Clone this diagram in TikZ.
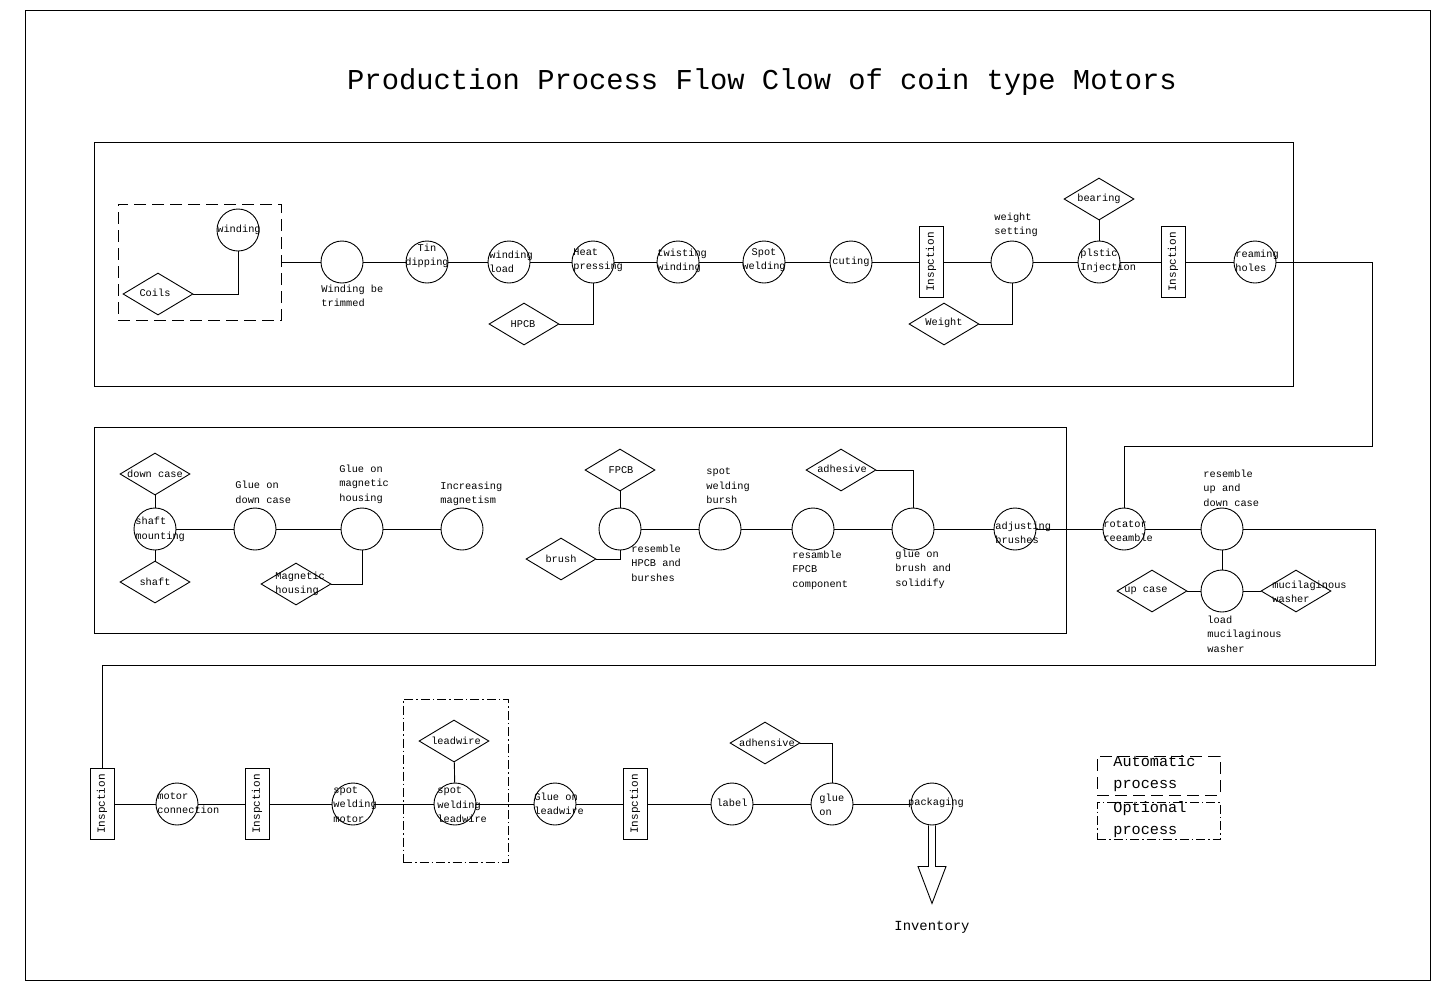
\documentclass[tikz,border=0pt]{standalone}
\usepackage{fontspec}
\setmainfont{Liberation Mono}
\usetikzlibrary{shapes.geometric}

\tikzset{
  stage/.style={draw,circle,minimum size=42pt,inner sep=0pt},
  part/.style={draw,diamond,minimum width=70pt,minimum height=42pt,inner sep=0pt},
  check/.style={draw,rectangle,rotate=90,minimum width=71pt,minimum height=24pt,inner sep=0pt,font=\fontsize{11}{12}\selectfont},
  txt/.style={inner sep=0pt,align=left,font=\fontsize{10.3}{14.5}\selectfont},
  autobox/.style={draw,rectangle,dash pattern=on 12pt off 6pt,minimum width=163pt,minimum height=116pt,inner sep=0pt},
  optbox/.style={draw,rectangle,dash pattern=on 9pt off 3pt on 1.5pt off 3pt,minimum width=105pt,minimum height=163pt,inner sep=0pt},
  key/.style={inner sep=0pt,anchor=west,align=left,font=\fontsize{15.2}{22}\selectfont},
}

\begin{document}
\begin{tikzpicture}[x=1pt,y=-1pt,line width=0.9pt]
\useasboundingbox (0,0) rectangle (1440,1002);
\draw (25,10) rectangle (1430,980);
\node[font=\fontsize{28.8}{34}\selectfont] (head) at (762,82) {Production Process Flow Clow of coin type Motors};
\draw (94,142) rectangle (1293,386);
\draw (94,427) rectangle (1066,633);

% row 1
\node[autobox] (auto) at (199.5,262) {};
\node[stage] (wind) at (238,230) {};
\node[txt] (wind-t) at (239,230) {winding};
\node[part] (coils) at (158,294) {};
\node[txt] (coils-t) at (155,293) {Coils};
\node[stage] (trim) at (342,262) {};
\node[txt,anchor=west] (trim-t) at (321,296) {Winding be\\trimmed};
\node[stage] (tin) at (427,262) {};
\node[txt,align=center] (tin-t) at (427,256) {Tin\\dipping};
\node[stage] (load) at (509,262) {};
\node[txt,anchor=west] (load-t) at (489,262) {winding\\load};
\node[stage] (heat) at (593,262) {};
\node[txt,anchor=west] (heat-t) at (573,260) {Heat\\pressing};
\node[part] (hpcb) at (524,324) {};
\node[txt] (hpcb-t) at (523,324) {HPCB};
\node[stage] (twist) at (678,262) {};
\node[txt,anchor=west] (twist-t) at (657,261) {twisting\\winding};
\node[stage] (spot) at (764,262) {};
\node[txt,align=center] (spot-t) at (764,260) {Spot\\welding};
\node[stage] (cut) at (851,262) {};
\node[txt] (cut-t) at (851,262) {cuting};
\node[check] (insp1) at (931,262) {Inspction};
\node[stage] (wset) at (1012,262) {};
\node[txt,anchor=west] (wset-t) at (994,225) {weight\\setting};
\node[part] (wt) at (944,324) {};
\node[txt] (wt-t) at (944,323) {Weight};
\node[stage] (inj) at (1099,262) {};
\node[txt,anchor=west] (inj-t) at (1080,261) {plstic\\Injection};
\node[part] (bear) at (1099,199) {};
\node[txt] (bear-t) at (1099,199) {bearing};
\node[check] (insp2) at (1173,262) {Inspction};
\node[stage] (ream) at (1255,262) {};
\node[txt,anchor=west] (ream-t) at (1235,261) {reaming\\holes};

\draw (auto.east) -- (trim) -- (tin) -- (load) -- (heat) -- (twist) -- (spot) -- (cut) -- (insp1) -- (wset) -- (inj) -- (insp2) -- (ream);
\draw (coils.east) -| (wind.south);
\draw (hpcb.east) -| (heat.south);
\draw (wt.east) -| (wset.south);
\draw (bear) -- (inj);

% row 2
\node[stage] (mount) at (155,529) {};
\node[txt,anchor=west] (mount-t) at (135,529.5) {shaft\\mounting};
\node[part] (dcase) at (155,474) {};
\node[txt] (dcase-t) at (155,474) {down case};
\node[part] (shaft) at (155,582) {};
\node[txt] (shaft-t) at (155,582) {shaft};
\node[stage] (gdc) at (255,529) {};
\node[txt,anchor=west] (gdc-t) at (235,492.5) {Glue on\\down case};
\node[stage] (gmh) at (362,529) {};
\node[txt,anchor=west] (gmh-t) at (339,484) {Glue on\\magnetic\\housing};
\node[part] (mhous) at (296,584) {};
\node[txt,anchor=west] (mhous-t) at (275,584) {Magnetic\\housing};
\node[stage] (incr) at (462,529) {};
\node[txt,anchor=west] (incr-t) at (440,494) {Increasing\\magnetism};
\node[stage] (rhpcb) at (620,529) {};
\node[txt,anchor=west] (rhpcb-t) at (631,563) {resemble\\HPCB and\\burshes};
\node[part] (fpcb) at (620,470) {};
\node[txt] (fpcb-t) at (621,470) {FPCB};
\node[part] (brush) at (561,559) {};
\node[txt] (brush-t) at (561,559) {brush};
\node[stage] (swb) at (720,529) {};
\node[txt,anchor=west] (swb-t) at (706,486) {spot\\welding\\bursh};
\node[stage] (rfpcb) at (813,529) {};
\node[txt,anchor=west] (rfpcb-t) at (792,570) {resamble\\FPCB\\component};
\node[stage] (glb) at (913,529) {};
\node[txt,anchor=west] (glb-t) at (895,569) {glue on\\brush and\\solidify};
\node[part] (adh) at (841,470) {};
\node[txt] (adh-t) at (842,469) {adhesive};
\node[stage] (adj) at (1015,529) {};
\node[txt,anchor=west] (adj-t) at (995,533) {adjusting\\brushes};
\node[stage] (rot) at (1124,529) {};
\node[txt,anchor=west] (rot-t) at (1103,531) {rotator\\reeamble};
\node[stage] (rud) at (1222,529) {};
\node[txt,anchor=west] (rud-t) at (1203,488) {resemble\\up and\\down case};
\node[stage] (lmw) at (1222,591) {};
\node[txt,anchor=west] (lmw-t) at (1207,634) {load\\mucilaginous\\washer};
\node[part] (upc) at (1152,591) {};
\node[txt] (upc-t) at (1146,591) {up case};
\node[part] (mwd) at (1296,591) {};
\node[txt,anchor=west] (mwd-t) at (1272,592) {mucilaginous\\washer};

\coordinate (bendA) at (1372,446);
\draw (ream.east) -| (bendA) -| (rot.north);
\draw (mount) -- (gdc) -- (gmh) -- (incr);
\draw (dcase) -- (mount) -- (shaft);
\draw (mhous.east) -| (gmh.south);
\draw (fpcb) -- (rhpcb);
\draw (brush.east) -| (rhpcb.south);
\draw (rhpcb) -- (swb) -- (rfpcb) -- (glb) -- (adj) -- (rot) -- (rud);
\draw (adh.east) -| (glb.north);
\draw (rud) -- (lmw);
\draw (upc) -- (lmw) -- (mwd);

% row 3
\node[check] (insp3) at (102,804) {Inspction};
\node[stage] (mcon) at (177,804) {};
\node[txt,anchor=west] (mcon-t) at (157,803) {motor\\connection};
\node[check] (insp4) at (257,804) {Inspction};
\node[stage] (swm) at (353,804) {};
\node[txt,anchor=west] (swm-t) at (333,804.5) {spot\\welding\\motor};
\node[optbox] (opt) at (455.5,780.5) {};
\node[part] (lead) at (454,741) {};
\node[txt] (lead-t) at (456,741) {leadwire};
\node[stage] (swl) at (455,804) {};
\node[txt,anchor=west] (swl-t) at (437,805) {spot\\welding\\leadwire};
\node[stage] (gol) at (555,804) {};
\node[txt,anchor=west] (gol-t) at (534,804) {Glue on\\leadwire};
\node[check] (insp5) at (635,804) {Inspction};
\node[stage] (lab) at (732,804) {};
\node[txt] (lab-t) at (732,803) {label};
\node[stage] (glo) at (832,804) {};
\node[txt,anchor=west] (glo-t) at (819,805) {glue\\on};
\node[part] (adh2) at (765,743) {};
\node[txt] (adh2-t) at (767,743) {adhensive};
\node[stage] (pack) at (932,804) {};
\node[txt] (pack-t) at (936,803) {packaging};
\node[font=\fontsize{13.9}{16}\selectfont] (inv) at (932,927) {Inventory};

\coordinate (bendB) at (1375,665);
\draw (rud.east) -| (bendB) -| (insp3.east);
\draw (insp3) -- (mcon) -- (insp4) -- (swm) -- (swl) -- (gol) -- (insp5) -- (lab) -- (glo) -- (pack);
\draw (lead) -- (swl);
\draw (adh2.east) -| (glo.north);
\draw (pack.south) ++(-3.5,0) -- ++(0,41) -- ++(-10.5,0) -- ++(14,37) -- ++(14,-37) -- ++(-10.5,0) -- ++(0,-41);

% key
\node[autobox,minimum width=123pt,minimum height=39pt] (keyA) at (1158.5,775.5) {};
\node[key] (keyA-t) at (1113,774) {Automatic\\process};
\node[optbox,minimum width=123pt,minimum height=37pt] (keyB) at (1158.5,820.5) {};
\node[key] (keyB-t) at (1113,820) {Optional\\process};
\end{tikzpicture}
\end{document}
